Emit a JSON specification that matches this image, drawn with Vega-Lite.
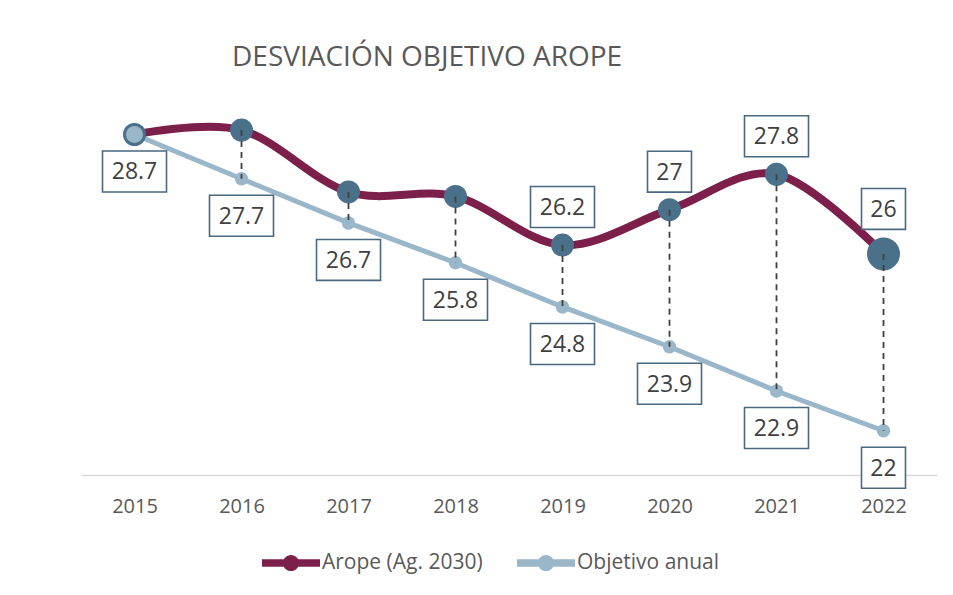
{
  "$schema": "https://vega.github.io/schema/vega-lite/v6.json",
  "autosize": {"type": "none"},
  "padding": {"left": 81, "top": 77, "right": 16, "bottom": 120},
  "width": 856,
  "height": 398,
  "background": "white",
  "title": {
    "text": "DESVIACIÓN OBJETIVO AROPE",
    "anchor": "start",
    "frame": "group",
    "dx": 151,
    "offset": -17,
    "baseline": "alphabetic",
    "font": "Open Sans",
    "fontSize": 28,
    "fontWeight": "normal",
    "color": "#595959"
  },
  "data": {
    "values": [
      {"year": "2015", "arope": 28.7, "objetivo": 28.7},
      {"year": "2016", "arope": 28.8, "objetivo": 27.7},
      {"year": "2017", "arope": 27.4, "objetivo": 26.7},
      {"year": "2018", "arope": 27.3, "objetivo": 25.8},
      {"year": "2019", "arope": 26.2, "objetivo": 24.8},
      {"year": "2020", "arope": 27.0, "objetivo": 23.9},
      {"year": "2021", "arope": 27.8, "objetivo": 22.9},
      {"year": "2022", "arope": 26.0, "objetivo": 22.0}
    ]
  },
  "encoding": {
    "x": {
      "field": "year",
      "type": "ordinal",
      "scale": {"type": "point", "padding": 0.5},
      "axis": {
        "title": null,
        "labelAngle": 0,
        "labelFont": "Open Sans",
        "labelFontSize": 20,
        "labelColor": "#595959",
        "labelPadding": 21,
        "ticks": false,
        "domainColor": "#D9D9D9",
        "domainWidth": 1.5,
        "grid": false
      }
    }
  },
  "layer": [
    {
      "mark": {"type": "line", "strokeWidth": 8, "interpolate": "cardinal", "strokeCap": "round"},
      "encoding": {
        "y": {"field": "arope", "type": "quantitative", "scale": {"domain": [21, 30], "zero": false}, "axis": null},
        "color": {"datum": "Arope (Ag. 2030)", "type": "nominal",
          "scale": {"domain": ["Arope (Ag. 2030)", "Objetivo anual"], "range": ["#7C1F4A", "#99B7C8"]},
          "legend": {
            "title": null,
            "orient": "none",
            "legendX": 181,
            "legendY": 457,
            "direction": "horizontal",
            "symbolType": "M-1,-0.13H1V0.13H-1Z M0.28,0 A0.28,0.28 0 1,1 -0.28,0 A0.28,0.28 0 1,1 0.28,0 Z",
            "symbolSize": 3364,
            "symbolStrokeWidth": 0,
            "labelFont": "Open Sans",
            "labelFontSize": 21,
            "labelColor": "#595959",
            "labelOffset": 2,
            "labelLimit": 400,
            "columnPadding": 34,
            "encode": {
              "symbols": {
                "update": {
                  "fill": {"scale": "color", "field": "value"},
                  "fillOpacity": {"value": 1},
                  "strokeWidth": {"value": 0}
                }
              }
            }
          }
        }
      }
    },
    {
      "mark": {"type": "line", "strokeWidth": 5},
      "encoding": {
        "y": {"field": "objetivo", "type": "quantitative"},
        "color": {"datum": "Objetivo anual", "type": "nominal"}
      }
    },
    {
      "mark": {"type": "circle", "size": 530, "color": "#4A7189", "opacity": 1},
      "transform": [{"filter": "datum.year != '2022'"}],
      "encoding": {"y": {"field": "arope", "type": "quantitative"}}
    },
    {
      "mark": {"type": "circle", "size": 1090, "color": "#4A7189", "opacity": 1},
      "transform": [{"filter": "datum.year == '2022'"}],
      "encoding": {"y": {"field": "arope", "type": "quantitative"}}
    },
    {
      "mark": {"type": "circle", "size": 180, "color": "#99B7C8", "opacity": 1},
      "encoding": {"y": {"field": "objetivo", "type": "quantitative"}}
    },
    {
      "mark": {"type": "circle", "size": 290, "color": "#99B7C8", "opacity": 1},
      "transform": [{"filter": "datum.year == '2015'"}],
      "encoding": {"y": {"field": "objetivo", "type": "quantitative"}}
    },
    {
      "mark": {"type": "rule", "color": "#404040", "strokeWidth": 1.8, "strokeDash": [6, 5]},
      "transform": [{"filter": "datum.year != '2015'"}],
      "encoding": {
        "y": {"field": "arope", "type": "quantitative"},
        "y2": {"field": "objetivo"}
      }
    },
    {
      "mark": {"type": "point", "shape": "M-1,-0.64H1V0.64H-1Z", "size": 4096, "filled": true, "fill": "white", "stroke": "#4A6880", "strokeWidth": 1.6, "opacity": 1, "yOffset": 37},
      "transform": [{"filter": "datum.objetivo % 1 != 0"}],
      "encoding": {"y": {"field": "objetivo", "type": "quantitative"}}
    },
    {
      "mark": {"type": "point", "shape": "M-1,-0.93H1V0.93H-1Z", "size": 1936, "filled": true, "fill": "white", "stroke": "#4A6880", "strokeWidth": 1.6, "opacity": 1, "yOffset": 37},
      "transform": [{"filter": "datum.objetivo % 1 == 0"}],
      "encoding": {"y": {"field": "objetivo", "type": "quantitative"}}
    },
    {
      "mark": {"type": "text", "font": "Open Sans", "fontSize": 23, "color": "#404040", "yOffset": 38, "baseline": "middle"},
      "encoding": {
        "y": {"field": "objetivo", "type": "quantitative"},
        "text": {"field": "objetivo", "type": "nominal"}
      }
    },
    {
      "mark": {"type": "point", "shape": "M-1,-0.64H1V0.64H-1Z", "size": 4096, "filled": true, "fill": "white", "stroke": "#4A6880", "strokeWidth": 1.6, "opacity": 1, "yOffset": -38},
      "transform": [{"filter": "datum.year >= '2019' && datum.year != '2022' && datum.arope % 1 != 0"}],
      "encoding": {"y": {"field": "arope", "type": "quantitative"}}
    },
    {
      "mark": {"type": "point", "shape": "M-1,-0.93H1V0.93H-1Z", "size": 1936, "filled": true, "fill": "white", "stroke": "#4A6880", "strokeWidth": 1.6, "opacity": 1, "yOffset": -38},
      "transform": [{"filter": "datum.year >= '2019' && datum.year != '2022' && datum.arope % 1 == 0"}],
      "encoding": {"y": {"field": "arope", "type": "quantitative"}}
    },
    {
      "mark": {"type": "point", "shape": "M-1,-0.93H1V0.93H-1Z", "size": 1936, "filled": true, "fill": "white", "stroke": "#4A6880", "strokeWidth": 1.6, "opacity": 1, "yOffset": -45},
      "transform": [{"filter": "datum.year == '2022'"}],
      "encoding": {"y": {"field": "arope", "type": "quantitative"}}
    },
    {
      "mark": {"type": "text", "font": "Open Sans", "fontSize": 23, "color": "#404040", "yOffset": -37, "baseline": "middle"},
      "transform": [{"filter": "datum.year >= '2019' && datum.year != '2022'"}],
      "encoding": {
        "y": {"field": "arope", "type": "quantitative"},
        "text": {"field": "arope", "type": "nominal"}
      }
    },
    {
      "mark": {"type": "text", "font": "Open Sans", "fontSize": 23, "color": "#404040", "yOffset": -44, "baseline": "middle"},
      "transform": [{"filter": "datum.year == '2022'"}],
      "encoding": {
        "y": {"field": "arope", "type": "quantitative"},
        "text": {"field": "arope", "type": "nominal"}
      }
    }
  ],
  "config": {"view": {"stroke": null}}
}
